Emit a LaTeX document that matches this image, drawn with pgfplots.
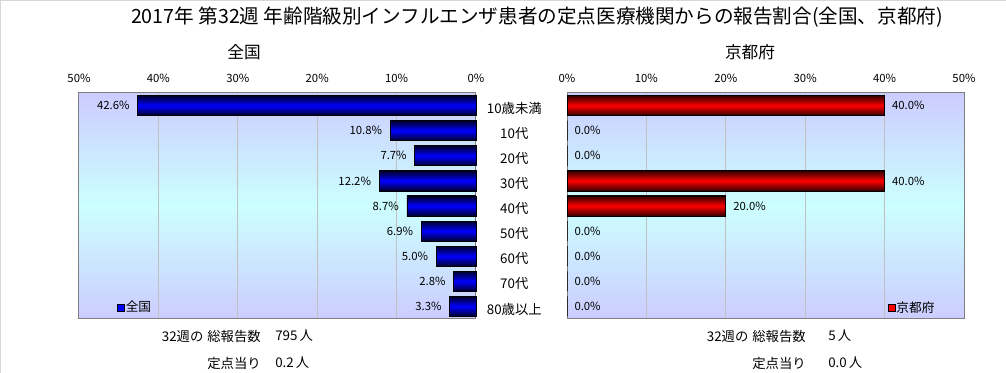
\documentclass[border=0pt]{standalone}
\usepackage{pgfplots}
\pgfplotsset{compat=1.18}
\usepackage{fontspec}
\setmainfont{Noto Sans CJK JP}
\definecolor{lav}{RGB}{204,204,255}
\definecolor{cyn}{RGB}{204,255,255}
\definecolor{dkblue}{RGB}{0,0,40}
\definecolor{dkred}{RGB}{50,0,0}
\definecolor{gridc}{RGB}{192,192,192}
\definecolor{framec}{RGB}{128,128,128}
\definecolor{outerc}{RGB}{215,215,215}
\pgfplotsset{
  common/.style={
    scale only axis, width=297.75pt, height=169.5pt,
    xbar, bar width=0.8, bar shift=0pt,
    xmin=0, xmax=50, ymin=-0.5, ymax=8.5,
    xtick={0,10,20,30,40,50},
    xticklabel pos=upper,
    xticklabel={\pgfmathprintnumber{\tick}\%},
    xticklabel style={font=\fontsize{8.5}{10}\selectfont, anchor=center, yshift=11.25pt},
    /pgf/number format/assume math mode=true,
    ytick={0,1,2,3,4,5,6,7,8},
    tick style={draw=none},
    xmajorgrids, grid style={gridc, line width=0.75pt},
    axis line style={framec, line width=0.75pt},
    axis background/.style={top color=lav, bottom color=lav, middle color=cyn},
    point meta=x,
    nodes near coords={\pgfmathprintnumber[fixed,fixed zerofill,precision=1]{\pgfplotspointmeta}\%},
    legend style={draw=none, fill=none, font=\fontsize{9.5}{11}\selectfont, inner sep=0pt, nodes={inner sep=0.6pt}},
    clip=false,
  },
  bluebar/.style={draw=black, line width=0.6pt, bar shift=0pt, forget plot, top color=dkblue, bottom color=dkblue, middle color=blue},
  redbar/.style={draw=black, line width=0.6pt, bar shift=0pt, forget plot, top color=dkred, bottom color=dkred, middle color=red},
}
\begin{document}
\begin{tikzpicture}
\begin{scope}[x=0.75pt,y=-0.75pt]
\path[use as bounding box] (0,0) rectangle (1006,373);
\draw[outerc, line width=0.75pt] (0.5,373) -- (0.5,0.5) -- (1006,0.5);
\node[font=\fontsize{14.7}{16}\selectfont, inner sep=0] at (537,17) {2017年 第32週 年齢階級別インフルエンザ患者の定点医療機関からの報告割合(全国、京都府)};
\node[font=\fontsize{12.5}{14}\selectfont, inner sep=0] at (244,52) {全国};
\node[font=\fontsize{12.5}{14}\selectfont, inner sep=0] at (750,52) {京都府};
\begin{scope}[every node/.style={font=\fontsize{10}{12}\selectfont, inner sep=0}]
\node[anchor=east] at (261,336) {32週の\hspace{0.3em}総報告数};
\node[anchor=west] at (275,336) {795\,人};
\node[anchor=east] at (261,363) {定点当り};
\node[anchor=west] at (275,363) {0.2\,人};
\node[anchor=east] at (806,336) {32週の\hspace{0.3em}総報告数};
\node[anchor=west] at (828,336) {5\,人};
\node[anchor=east] at (806,363) {定点当り};
\node[anchor=west] at (828,363) {0.0\,人};
\end{scope}
\end{scope}

\begin{axis}[common,
  at={(59.25pt,-69.75pt)}, anchor=north west,
  x dir=reverse,
  yticklabels={},
  every node near coord/.append style={font=\fontsize{8.5}{10}\selectfont, black, anchor=east, xshift=-2.5pt},
  legend style={at={(0.096,0.051)}, anchor=west},
  legend image code/.code={\draw[fill=blue, draw=black, line width=0.5pt] (0pt,-2.6pt) rectangle (5.2pt,2.6pt);},
]
% 全国: 10歳未満 .. 80歳以上
\addplot[bluebar] coordinates {(42.6,8)};
\addplot[bluebar] coordinates {(10.8,7)};
\addplot[bluebar] coordinates {(7.7,6)};
\addplot[bluebar] coordinates {(12.2,5)};
\addplot[bluebar] coordinates {(8.7,4)};
\addplot[bluebar] coordinates {(6.9,3)};
\addplot[bluebar] coordinates {(5.0,2)};
\addplot[bluebar] coordinates {(2.8,1)};
\addplot[bluebar] coordinates {(3.3,0)};
\addlegendimage{}
\addlegendentry{全国}
\end{axis}

\begin{axis}[common,
  at={(425.25pt,-69.75pt)}, anchor=north west,
  yticklabel pos=left,
  yticklabels={80歳以上,70代,60代,50代,40代,30代,20代,10代,10歳未満},
  yticklabel style={font=\fontsize{10}{12}\selectfont, anchor=center, xshift=-35.25pt, yshift=-2pt},
  every node near coord/.append style={font=\fontsize{8.5}{10}\selectfont, black, anchor=west, xshift=2pt},
  legend style={at={(0.808,0.05)}, anchor=west},
  legend image code/.code={\draw[fill=red, draw=black, line width=0.5pt] (0pt,-2.6pt) rectangle (5.2pt,2.6pt);},
]
% 京都府: 10歳未満 .. 80歳以上
\addplot[redbar] coordinates {(40.0,8)};
\addplot[redbar] coordinates {(0.0,7)};
\addplot[redbar] coordinates {(0.0,6)};
\addplot[redbar] coordinates {(40.0,5)};
\addplot[redbar] coordinates {(20.0,4)};
\addplot[redbar] coordinates {(0.0,3)};
\addplot[redbar] coordinates {(0.0,2)};
\addplot[redbar] coordinates {(0.0,1)};
\addplot[redbar] coordinates {(0.0,0)};
\addlegendimage{}
\addlegendentry{京都府}
\end{axis}
\end{tikzpicture}
\end{document}
